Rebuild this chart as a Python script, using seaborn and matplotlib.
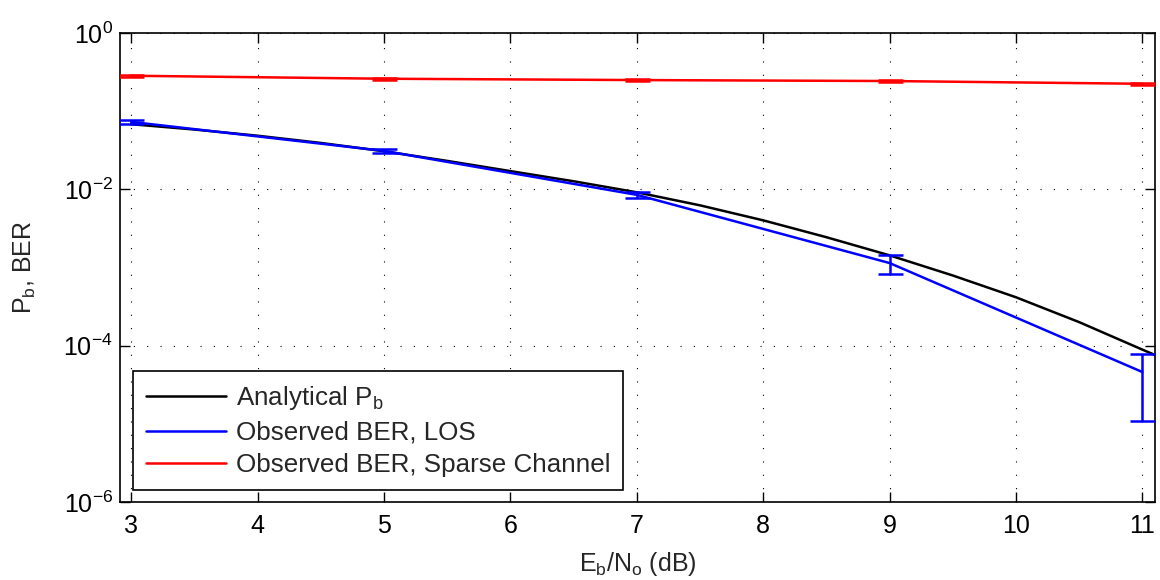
import numpy as np
import pandas as pd
import matplotlib
matplotlib.use('Agg')
import matplotlib.pyplot as plt
import seaborn as sns

# Analytical Pb curve
ebno_analytical = [3, 3.5, 4, 4.5, 5, 5.5, 6, 6.5, 7, 7.5, 8, 8.5, 9, 9.5, 10, 10.5, 11, 11.1]
pb_analytical = [0.0681, 0.0582, 0.0485, 0.0392, 0.0307, 0.0231, 0.0171, 0.01268, 0.00916,
                 0.00624, 0.00401, 0.00244, 0.00143, 7.9e-4, 4.16e-4, 2.0e-4, 8.9e-5, 7.6e-5]

# Observed BER, LOS (mean, lower and upper error bar ends)
ebno_obs = [3, 5, 7, 9, 11]
ber_los = [0.0729, 0.0310, 0.0085, 0.00114, 4.6e-5]
ber_los_low = [0.0681, 0.0294, 0.0078, 0.00083, 1.1e-5]
ber_los_high = [0.0768, 0.0331, 0.0092, 0.00146, 7.9e-5]

# Observed BER, sparse channel
ber_sparse = [0.284, 0.260, 0.250, 0.243, 0.224]
ber_sparse_low = [0.275, 0.252, 0.243, 0.236, 0.217]
ber_sparse_high = [0.293, 0.268, 0.257, 0.250, 0.231]

xticks = [3, 4, 5, 6, 7, 8, 9, 10, 11]
yticks = [1e-6, 1e-4, 1e-2, 1e0]
ytick_labels = [r'$\mathregular{10^{-6}}$', r'$\mathregular{10^{-4}}$',
                r'$\mathregular{10^{-2}}$', r'$\mathregular{10^{0}}$']

sns.set_style('ticks')
plt.rcParams['font.family'] = ['Liberation Sans', 'DejaVu Sans']
plt.rcParams['mathtext.fontset'] = 'custom'
plt.rcParams['mathtext.rm'] = 'Liberation Sans'
plt.rcParams['mathtext.it'] = 'Liberation Sans'
plt.rcParams['mathtext.default'] = 'regular'
plt.rcParams['font.size'] = 18

fig = plt.figure(figsize=(11.6, 5.8), dpi=100)
ax = fig.add_axes([0.1034, 0.1345, 0.8923, 0.8086])

df_a = pd.DataFrame({'x': ebno_analytical, 'y': pb_analytical})
df_o = pd.DataFrame({'x': ebno_obs, 'los': ber_los, 'sparse': ber_sparse})

lw = 1.8
sns.lineplot(data=df_a, x='x', y='y', color='black', lw=lw, ax=ax,
             label=r'Analytical $\mathregular{P_b}$', zorder=3)
sns.lineplot(data=df_o, x='x', y='los', color='#0000ff', lw=lw, ax=ax,
             label='Observed BER, LOS', zorder=4)
sns.lineplot(data=df_o, x='x', y='sparse', color='#ff0000', lw=lw, ax=ax,
             label='Observed BER, Sparse Channel', zorder=4)

los = np.array(ber_los)
sp = np.array(ber_sparse)
ax.errorbar(ebno_obs, ber_los,
            yerr=[los - np.array(ber_los_low), np.array(ber_los_high) - los],
            fmt='none', ecolor='#0000ff', elinewidth=lw, capsize=9, capthick=lw, zorder=4)
ax.errorbar(ebno_obs, ber_sparse,
            yerr=[sp - np.array(ber_sparse_low), np.array(ber_sparse_high) - sp],
            fmt='none', ecolor='#ff0000', elinewidth=lw, capsize=9, capthick=lw, zorder=4)

ax.set_yscale('log')
ax.set_xlim(2.91, 11.1)
ax.set_ylim(1e-6, 1e0)
ax.set_xticks(xticks)
ax.set_xticklabels([str(t) for t in xticks])
ax.set_yticks(yticks)
ax.set_yticklabels(ytick_labels)
ax.minorticks_off()
ax.tick_params(which='major', direction='in', length=7, width=1, top=True, right=True,
               labelsize=18, colors='black')
ax.tick_params(axis='x', pad=9)
ax.tick_params(axis='y', pad=5)
ax.grid(True, which='major', color='black', linestyle=(0, (1, 11)), linewidth=0.8)
for s in ax.spines.values():
    s.set_linewidth(1.2)
    s.set_color('black')

ax.set_xlabel(r'$\mathregular{E_b/N_o}$ (dB)', fontsize=18, labelpad=8)
ax.set_ylabel(r'$\mathregular{P_b}$, BER', fontsize=18, labelpad=18)

leg = ax.legend(loc='lower left', bbox_to_anchor=(0.0126, 0.0256), borderaxespad=0,
                fancybox=False, frameon=True, edgecolor='black', framealpha=1,
                handlelength=3.1, handletextpad=0.35, labelspacing=0.32,
                borderpad=0.5, fontsize=18.7)
leg.get_frame().set_linewidth(1.2)

fig.savefig('out.png', dpi=100)
